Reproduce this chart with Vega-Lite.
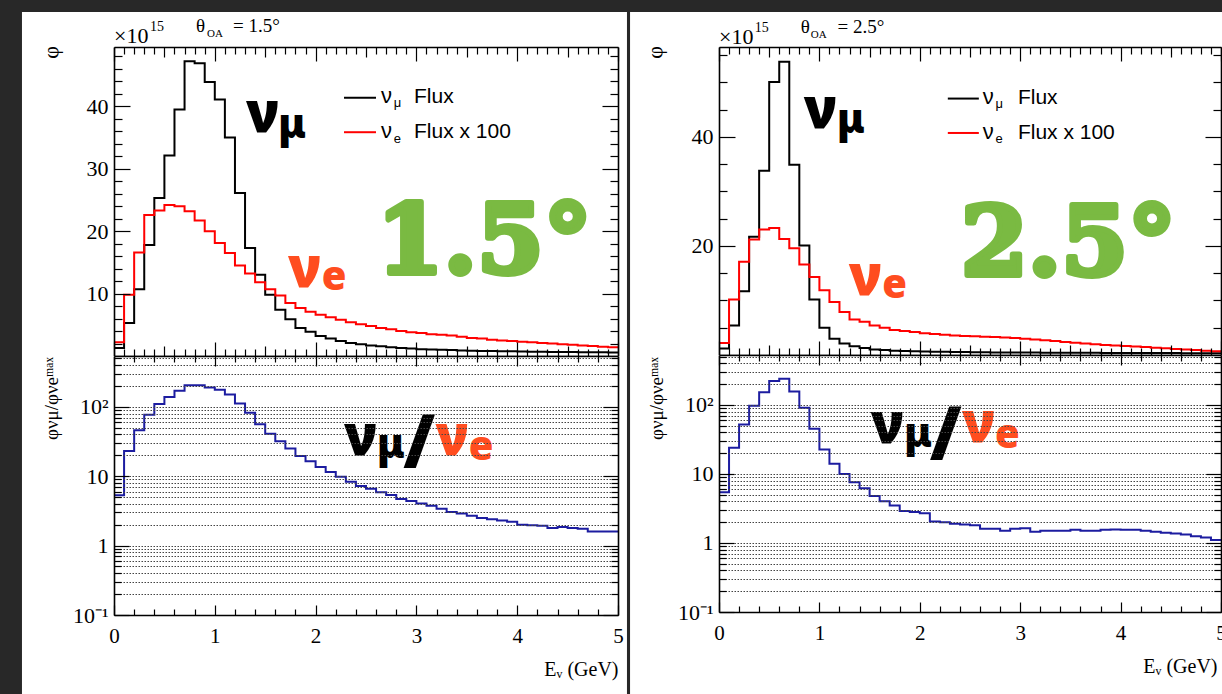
{
"$schema": "https://vega.github.io/schema/vega-lite/v6.json",
"background": "#282828",
"padding": {"left": 21, "top": 12, "right": 0, "bottom": 0},
"config": {
  "view": {"stroke": null},
  "axis": {"domainColor": "#000", "domainWidth": 1.6, "tickColor": "#000", "tickWidth": 1.2, "labelFont": "Liberation Serif", "labelFontSize": 22, "labelColor": "#000", "titleFont": "Liberation Serif", "titleFontWeight": "normal", "titleColor": "#000", "grid": false, "zindex": 1, "labelFlush": false, "labelOverlap": false, "labelBound": false}
},
"datasets": {
"L": [
{"E":0.0,"numu":1.3,"nue":2.2,"ratio":5.3},
{"E":0.1,"numu":5.3,"nue":9.8,"ratio":23},
{"E":0.2,"numu":10.7,"nue":16.6,"ratio":46},
{"E":0.3,"numu":17.8,"nue":22.6,"ratio":77},
{"E":0.4,"numu":25.3,"nue":23.3,"ratio":110},
{"E":0.5,"numu":32.1,"nue":24.2,"ratio":139},
{"E":0.6,"numu":39.5,"nue":24.0,"ratio":170},
{"E":0.7,"numu":47.2,"nue":23.2,"ratio":205},
{"E":0.8,"numu":46.9,"nue":21.7,"ratio":205},
{"E":0.9,"numu":43.9,"nue":20.0,"ratio":190},
{"E":1.0,"numu":41.1,"nue":18.1,"ratio":176},
{"E":1.1,"numu":35.0,"nue":16.5,"ratio":151},
{"E":1.2,"numu":26.1,"nue":14.5,"ratio":112},
{"E":1.3,"numu":17.3,"nue":13.2,"ratio":82},
{"E":1.4,"numu":13.0,"nue":11.8,"ratio":56},
{"E":1.5,"numu":9.8,"nue":10.7,"ratio":41},
{"E":1.6,"numu":7.4,"nue":9.7,"ratio":32},
{"E":1.7,"numu":5.9,"nue":8.5,"ratio":25},
{"E":1.8,"numu":4.5,"nue":7.7,"ratio":19.6},
{"E":1.9,"numu":3.9,"nue":7.1,"ratio":16.4},
{"E":2.0,"numu":3.2,"nue":6.6,"ratio":13.6},
{"E":2.1,"numu":2.8,"nue":6.2,"ratio":11.5},
{"E":2.2,"numu":2.4,"nue":5.8,"ratio":9.8},
{"E":2.3,"numu":2.1,"nue":5.4,"ratio":8.3},
{"E":2.4,"numu":1.9,"nue":5.1,"ratio":7.25},
{"E":2.5,"numu":1.7,"nue":4.8,"ratio":6.6},
{"E":2.6,"numu":1.55,"nue":4.5,"ratio":5.85},
{"E":2.7,"numu":1.4,"nue":4.3,"ratio":5.35},
{"E":2.8,"numu":1.3,"nue":4.0,"ratio":4.7},
{"E":2.9,"numu":1.2,"nue":3.8,"ratio":4.4},
{"E":3.0,"numu":1.1,"nue":3.7,"ratio":4.05},
{"E":3.1,"numu":1.05,"nue":3.5,"ratio":3.75},
{"E":3.2,"numu":1.0,"nue":3.4,"ratio":3.4},
{"E":3.3,"numu":0.95,"nue":3.3,"ratio":3.05},
{"E":3.4,"numu":0.9,"nue":3.1,"ratio":2.9},
{"E":3.5,"numu":0.85,"nue":2.9,"ratio":2.7},
{"E":3.6,"numu":0.82,"nue":2.8,"ratio":2.5},
{"E":3.7,"numu":0.8,"nue":2.6,"ratio":2.4},
{"E":3.8,"numu":0.77,"nue":2.5,"ratio":2.3},
{"E":3.9,"numu":0.75,"nue":2.4,"ratio":2.2},
{"E":4.0,"numu":0.72,"nue":2.3,"ratio":2.0},
{"E":4.1,"numu":0.7,"nue":2.2,"ratio":1.97},
{"E":4.2,"numu":0.68,"nue":2.1,"ratio":1.93},
{"E":4.3,"numu":0.66,"nue":2.0,"ratio":1.8},
{"E":4.4,"numu":0.65,"nue":1.9,"ratio":1.85},
{"E":4.5,"numu":0.64,"nue":1.8,"ratio":1.8},
{"E":4.6,"numu":0.62,"nue":1.7,"ratio":1.75},
{"E":4.7,"numu":0.61,"nue":1.6,"ratio":1.6},
{"E":4.8,"numu":0.6,"nue":1.5,"ratio":1.6},
{"E":4.9,"numu":0.58,"nue":1.4,"ratio":1.6},
{"E":5.0,"numu":0.58,"nue":1.4,"ratio":1.6}
],
"R": [
{"E":0.0,"numu":1.2,"nue":2.2,"ratio":5.4},
{"E":0.1,"numu":5.4,"nue":10.2,"ratio":24},
{"E":0.2,"numu":11.7,"nue":17.1,"ratio":52},
{"E":0.3,"numu":21.7,"nue":21.2,"ratio":97},
{"E":0.4,"numu":33.8,"nue":23.0,"ratio":152},
{"E":0.5,"numu":50.1,"nue":23.3,"ratio":222},
{"E":0.6,"numu":53.8,"nue":21.3,"ratio":238},
{"E":0.7,"numu":34.9,"nue":19.6,"ratio":156},
{"E":0.8,"numu":20.1,"nue":16.6,"ratio":91},
{"E":0.9,"numu":10.2,"nue":14.3,"ratio":45},
{"E":1.0,"numu":5.0,"nue":11.9,"ratio":22.6},
{"E":1.1,"numu":3.0,"nue":9.7,"ratio":14},
{"E":1.2,"numu":2.1,"nue":7.9,"ratio":10},
{"E":1.3,"numu":1.6,"nue":6.5,"ratio":7.6},
{"E":1.4,"numu":1.3,"nue":6.1,"ratio":6.2},
{"E":1.5,"numu":1.0,"nue":5.4,"ratio":4.8},
{"E":1.6,"numu":0.9,"nue":5.0,"ratio":4.0},
{"E":1.7,"numu":0.8,"nue":4.6,"ratio":3.5},
{"E":1.8,"numu":0.75,"nue":4.4,"ratio":2.9},
{"E":1.9,"numu":0.7,"nue":4.2,"ratio":2.8},
{"E":2.0,"numu":0.65,"nue":4.0,"ratio":2.7},
{"E":2.1,"numu":0.6,"nue":3.85,"ratio":2.05},
{"E":2.2,"numu":0.58,"nue":3.7,"ratio":2.0},
{"E":2.3,"numu":0.55,"nue":3.6,"ratio":1.9},
{"E":2.4,"numu":0.53,"nue":3.5,"ratio":1.85},
{"E":2.5,"numu":0.5,"nue":3.45,"ratio":1.8},
{"E":2.6,"numu":0.5,"nue":3.35,"ratio":1.6},
{"E":2.7,"numu":0.48,"nue":3.3,"ratio":1.6},
{"E":2.8,"numu":0.47,"nue":3.2,"ratio":1.5},
{"E":2.9,"numu":0.46,"nue":3.1,"ratio":1.6},
{"E":3.0,"numu":0.45,"nue":3.0,"ratio":1.63},
{"E":3.1,"numu":0.44,"nue":2.85,"ratio":1.45},
{"E":3.2,"numu":0.43,"nue":2.7,"ratio":1.5},
{"E":3.3,"numu":0.42,"nue":2.55,"ratio":1.5},
{"E":3.4,"numu":0.41,"nue":2.4,"ratio":1.5},
{"E":3.5,"numu":0.4,"nue":2.25,"ratio":1.55},
{"E":3.6,"numu":0.4,"nue":2.1,"ratio":1.5},
{"E":3.7,"numu":0.39,"nue":1.95,"ratio":1.5},
{"E":3.8,"numu":0.38,"nue":1.85,"ratio":1.55},
{"E":3.9,"numu":0.38,"nue":1.75,"ratio":1.57},
{"E":4.0,"numu":0.37,"nue":1.65,"ratio":1.55},
{"E":4.1,"numu":0.37,"nue":1.55,"ratio":1.55},
{"E":4.2,"numu":0.36,"nue":1.45,"ratio":1.5},
{"E":4.3,"numu":0.36,"nue":1.35,"ratio":1.45},
{"E":4.4,"numu":0.35,"nue":1.25,"ratio":1.4},
{"E":4.5,"numu":0.35,"nue":1.1,"ratio":1.37},
{"E":4.6,"numu":0.34,"nue":1.0,"ratio":1.33},
{"E":4.7,"numu":0.34,"nue":0.9,"ratio":1.25},
{"E":4.8,"numu":0.33,"nue":0.8,"ratio":1.2},
{"E":4.9,"numu":0.33,"nue":0.7,"ratio":1.1},
{"E":5.0,"numu":0.33,"nue":0.7,"ratio":1.1}
]
},
"spacing": 3,
"bounds": "full",
"hconcat": [
{
"spacing": 0,
"bounds": "flush",
"vconcat": [
{
"width": 504, "height": 309,
"data": {"name": "L"},
"resolve": {"axis": {"x": "independent", "y": "independent"}},
"layer": [
{"data": {"values": [{}]}, "mark": {"type": "rect", "color": "#ffffff", "clip": false},
 "encoding": {"x": {"datum": -0.913, "type": "quantitative", "axis": null, "scale": {"domain": [0, 5], "nice": false, "zero": false}}, "x2": {"datum": 5.089},
  "y": {"datum": 0, "type": "quantitative", "axis": null, "scale": {"domain": [0, 49.5], "nice": false, "zero": false}}, "y2": {"datum": 55.1}}},
{"mark": {"type": "line", "interpolate": "step-after", "color": "#000000", "strokeWidth": 2},
 "encoding": {
  "x": {"field": "E", "type": "quantitative", "scale": {"domain": [0, 5], "nice": false, "zero": false},
   "axis": {"orient": "bottom", "zindex": 2, "values": [0,0.1,0.2,0.3,0.4,0.5,0.6,0.7,0.8,0.9,1,1.1,1.2,1.3,1.4,1.5,1.6,1.7,1.8,1.9,2,2.1,2.2,2.3,2.4,2.5,2.6,2.7,2.8,2.9,3,3.1,3.2,3.3,3.4,3.5,3.6,3.7,3.8,3.9,4,4.1,4.2,4.3,4.4,4.5,4.6,4.7,4.8,4.9,5], "labels": false, "title": null, "tickSize": -14,
    "tickDash": {"condition": [{"test": "abs(datum.value*2 - round(datum.value*2)) < 0.001 && abs(datum.value - round(datum.value)) > 0.001", "value": [10, 100]}, {"test": "abs(datum.value - round(datum.value)) > 0.001", "value": [7, 100]}], "value": [40, 1]}}},
  "y": {"field": "numu", "type": "quantitative", "scale": {"domain": [0, 49.5], "nice": false, "zero": false},
   "axis": {"orient": "left", "zindex": 2, "values": [2,4,6,8,10,12,14,16,18,20,22,24,26,28,30,32,34,36,38,40,42,44,46,48], "tickSize": -16,
    "tickDash": {"condition": {"test": "datum.value % 10 !== 0", "value": [8, 100]}, "value": [40, 1]},
    "labelExpr": "datum.value % 10 === 0 ? datum.label : ''", "labelPadding": 22,
    "title": "φ", "titleFontSize": 22, "titleX": -64, "titleY": 5, "titleAngle": 270, "titleAlign": "center", "titleBaseline": "middle"}}}},
{"mark": {"type": "line", "interpolate": "step-after", "color": "#ff0000", "strokeWidth": 2},
 "encoding": {
  "x": {"field": "E", "type": "quantitative",
   "axis": {"orient": "top", "zindex": 2, "values": [0,0.1,0.2,0.3,0.4,0.5,0.6,0.7,0.8,0.9,1,1.1,1.2,1.3,1.4,1.5,1.6,1.7,1.8,1.9,2,2.1,2.2,2.3,2.4,2.5,2.6,2.7,2.8,2.9,3,3.1,3.2,3.3,3.4,3.5,3.6,3.7,3.8,3.9,4,4.1,4.2,4.3,4.4,4.5,4.6,4.7,4.8,4.9,5], "labels": false, "title": null, "tickSize": -14,
    "tickDash": {"condition": [{"test": "abs(datum.value*2 - round(datum.value*2)) < 0.001 && abs(datum.value - round(datum.value)) > 0.001", "value": [10, 100]}, {"test": "abs(datum.value - round(datum.value)) > 0.001", "value": [7, 100]}], "value": [40, 1]}}},
  "y": {"field": "nue", "type": "quantitative",
   "axis": {"orient": "right", "zindex": 2, "values": [2,4,6,8,10,12,14,16,18,20,22,24,26,28,30,32,34,36,38,40,42,44,46,48], "labels": false, "title": null, "tickSize": -16,
    "tickDash": {"condition": {"test": "datum.value % 10 !== 0", "value": [8, 100]}, "value": [40, 1]}}}}},
{"data": {"values": [{"t": "×10"}]}, "mark": {"type": "text", "align": "left", "baseline": "alphabetic", "font": "Liberation Serif", "fontSize": 22, "color": "#000", "clip": false},
 "encoding": {"x": {"datum": 0, "type": "quantitative", "axis": null}, "y": {"datum": 50.18, "type": "quantitative", "axis": null}, "text": {"field": "t"}}},
{"data": {"values": [{"t": "15"}]}, "mark": {"type": "text", "align": "left", "baseline": "alphabetic", "font": "Liberation Serif", "fontSize": 14, "color": "#000", "clip": false},
 "encoding": {"x": {"datum": 0.357, "type": "quantitative", "axis": null}, "y": {"datum": 52.04, "type": "quantitative", "axis": null}, "text": {"field": "t"}}},
{"data": {"values": [{"t": "θ"}]}, "mark": {"type": "text", "align": "left", "baseline": "alphabetic", "font": "Liberation Serif", "fontSize": 19, "color": "#000", "clip": false},
 "encoding": {"x": {"datum": 0.813, "type": "quantitative", "axis": null}, "y": {"datum": 51.94, "type": "quantitative", "axis": null}, "text": {"field": "t"}}},
{"data": {"values": [{"t": "OA"}]}, "mark": {"type": "text", "align": "left", "baseline": "alphabetic", "font": "Liberation Serif", "fontSize": 11, "color": "#000", "clip": false},
 "encoding": {"x": {"datum": 0.923, "type": "quantitative", "axis": null}, "y": {"datum": 51.14, "type": "quantitative", "axis": null}, "text": {"field": "t"}}},
{"data": {"values": [{"t": "= 1.5°"}]}, "mark": {"type": "text", "align": "left", "baseline": "alphabetic", "font": "Liberation Serif", "fontSize": 19, "color": "#000", "clip": false},
 "encoding": {"x": {"datum": 1.181, "type": "quantitative", "axis": null}, "y": {"datum": 51.94, "type": "quantitative", "axis": null}, "text": {"field": "t"}}},
{"data": {"values": [{"t": "ν"}]}, "mark": {"type": "text", "align": "left", "baseline": "alphabetic", "font": "Noto Sans", "fontWeight": 900, "fontSize": 56, "color": "#000", "clip": false},
 "encoding": {"x": {"datum": 1.31, "type": "quantitative", "axis": null}, "y": {"datum": 35.81, "type": "quantitative", "axis": null}, "text": {"field": "t"}}},
{"data": {"values": [{"t": "μ"}]}, "mark": {"type": "text", "align": "left", "baseline": "alphabetic", "font": "Noto Sans", "fontWeight": 900, "fontSize": 40, "color": "#000", "clip": false},
 "encoding": {"x": {"datum": 1.63, "type": "quantitative", "axis": null}, "y": {"datum": 35.0, "type": "quantitative", "axis": null}, "text": {"field": "t"}}},
{"data": {"values": [{"t": "ν"}]}, "mark": {"type": "text", "align": "left", "baseline": "alphabetic", "font": "Noto Sans", "fontWeight": 900, "fontSize": 56, "color": "#ff4d1f", "clip": false},
 "encoding": {"x": {"datum": 1.726, "type": "quantitative", "axis": null}, "y": {"datum": 11.13, "type": "quantitative", "axis": null}, "text": {"field": "t"}}},
{"data": {"values": [{"t": "e"}]}, "mark": {"type": "text", "align": "left", "baseline": "alphabetic", "font": "Noto Sans", "fontWeight": 900, "fontSize": 40, "color": "#ff4d1f", "clip": false},
 "encoding": {"x": {"datum": 2.06, "type": "quantitative", "axis": null}, "y": {"datum": 10.65, "type": "quantitative", "axis": null}, "text": {"field": "t"}}},
{"data": {"values": [{"t": "1.5°"}]}, "mark": {"type": "text", "align": "left", "baseline": "alphabetic", "font": "DejaVu Serif", "fontWeight": "bold", "fontSize": 96, "color": "#7aba42", "stroke": "#7aba42", "strokeWidth": 6, "strokeJoin": "round", "clip": false},
 "encoding": {"x": {"datum": 2.606, "type": "quantitative", "axis": null}, "y": {"datum": 13.3, "type": "quantitative", "axis": null}, "text": {"field": "t"}}},
{"data": {"values": [{}]}, "mark": {"type": "rule", "color": "#000000", "strokeWidth": 2, "clip": false},
 "encoding": {"x": {"datum": 2.282, "type": "quantitative", "axis": null}, "x2": {"datum": 2.599}, "y": {"datum": 41.37, "type": "quantitative", "axis": null}}},
{"data": {"values": [{}]}, "mark": {"type": "rule", "color": "#ff0000", "strokeWidth": 2, "clip": false},
 "encoding": {"x": {"datum": 2.282, "type": "quantitative", "axis": null}, "x2": {"datum": 2.599}, "y": {"datum": 35.85, "type": "quantitative", "axis": null}}},
{"data": {"values": [{"t": "ν"}]}, "mark": {"type": "text", "align": "left", "baseline": "alphabetic", "font": "Liberation Sans", "fontSize": 22, "color": "#000", "clip": false},
 "encoding": {"x": {"datum": 2.649, "type": "quantitative", "axis": null}, "y": {"datum": 40.53, "type": "quantitative", "axis": null}, "text": {"field": "t"}}},
{"data": {"values": [{"t": "μ"}]}, "mark": {"type": "text", "align": "left", "baseline": "alphabetic", "font": "Liberation Sans", "fontSize": 13, "color": "#000", "clip": false},
 "encoding": {"x": {"datum": 2.775, "type": "quantitative", "axis": null}, "y": {"datum": 39.81, "type": "quantitative", "axis": null}, "text": {"field": "t"}}},
{"data": {"values": [{"t": "Flux"}]}, "mark": {"type": "text", "align": "left", "baseline": "alphabetic", "font": "Liberation Sans", "fontSize": 21, "color": "#000", "clip": false},
 "encoding": {"x": {"datum": 2.976, "type": "quantitative", "axis": null}, "y": {"datum": 40.53, "type": "quantitative", "axis": null}, "text": {"field": "t"}}},
{"data": {"values": [{"t": "ν"}]}, "mark": {"type": "text", "align": "left", "baseline": "alphabetic", "font": "Liberation Sans", "fontSize": 22, "color": "#000", "clip": false},
 "encoding": {"x": {"datum": 2.649, "type": "quantitative", "axis": null}, "y": {"datum": 34.96, "type": "quantitative", "axis": null}, "text": {"field": "t"}}},
{"data": {"values": [{"t": "e"}]}, "mark": {"type": "text", "align": "left", "baseline": "alphabetic", "font": "Liberation Sans", "fontSize": 13, "color": "#000", "clip": false},
 "encoding": {"x": {"datum": 2.775, "type": "quantitative", "axis": null}, "y": {"datum": 34.2, "type": "quantitative", "axis": null}, "text": {"field": "t"}}},
{"data": {"values": [{"t": "Flux x 100"}]}, "mark": {"type": "text", "align": "left", "baseline": "alphabetic", "font": "Liberation Sans", "fontSize": 21, "color": "#000", "clip": false},
 "encoding": {"x": {"datum": 2.976, "type": "quantitative", "axis": null}, "y": {"datum": 34.96, "type": "quantitative", "axis": null}, "text": {"field": "t"}}}
]
},
{
"width": 504, "height": 259,
"data": {"name": "L"},
"resolve": {"axis": {"x": "independent", "y": "independent"}},
"layer": [
{"data": {"values": [{}]}, "mark": {"type": "rect", "color": "#ffffff", "clip": false},
 "encoding": {"x": {"datum": -0.913, "type": "quantitative", "axis": null, "scale": {"domain": [0, 5], "nice": false, "zero": false}}, "x2": {"datum": 5.089},
  "y": {"datum": 540, "type": "quantitative", "axis": null, "scale": {"type": "log", "domain": [0.1, 540], "nice": false}}, "y2": {"datum": 0.0072}}},
{"mark": {"type": "line", "interpolate": "step-after", "color": "#1c1ca0", "strokeWidth": 2},
 "encoding": {
  "x": {"field": "E", "type": "quantitative", "scale": {"domain": [0, 5], "nice": false, "zero": false},
   "axis": {"orient": "bottom", "zindex": 2, "values": [0,0.2,0.4,0.6,0.8,1,1.2,1.4,1.6,1.8,2,2.2,2.4,2.6,2.8,3,3.2,3.4,3.6,3.8,4,4.2,4.4,4.6,4.8,5], "tickSize": -10,
    "tickDash": {"condition": {"test": "abs(datum.value - round(datum.value)) > 0.001", "value": [6, 100]}, "value": [40, 1]},
    "labelExpr": "abs(datum.value - round(datum.value)) < 0.001 ? '' + round(datum.value) : ''", "labelPadding": 20, "labelFontSize": 21,
    "title": "Eᵥ (GeV)", "titleFontSize": 20, "titleX": 504, "titleY": 60, "titleAlign": "right", "titleBaseline": "alphabetic"}},
  "y": {"field": "ratio", "type": "quantitative", "scale": {"type": "log", "domain": [0.1, 540], "nice": false},
   "axis": {"orient": "left", "zindex": 2, "values": [0.1,0.2,0.3,0.4,0.5,0.6,0.7,0.8,0.9,1,2,3,4,5,6,7,8,9,10,20,30,40,50,60,70,80,90,100,200,300,400,500], "tickSize": -15,
    "tickDash": {"condition": {"test": "abs(log(datum.value)/LN10 - round(log(datum.value)/LN10)) > 0.001", "value": [7, 100]}, "value": [40, 1]},
    "grid": true, "gridDash": [1.5, 1.5], "gridColor": "#444444", "gridWidth": 1,
    "labelExpr": "datum.value === 0.1 ? '10⁻¹' : datum.value === 1 ? '1' : datum.value === 10 ? '10' : datum.value === 100 ? '10²' : ''", "labelPadding": 21,
    "title": "φνμ/φνeᵐᵃˣ", "titleFontSize": 19, "titleX": -63, "titleY": 42, "titleAngle": 270, "titleAlign": "center", "titleBaseline": "middle"}}}},
{"mark": {"type": "point", "opacity": 0},
 "encoding": {
  "x": {"field": "E", "type": "quantitative",
   "axis": {"orient": "top", "zindex": 2, "values": [0,0.2,0.4,0.6,0.8,1,1.2,1.4,1.6,1.8,2,2.2,2.4,2.6,2.8,3,3.2,3.4,3.6,3.8,4,4.2,4.4,4.6,4.8,5], "labels": false, "title": null, "tickSize": -10,
    "tickDash": {"condition": {"test": "abs(datum.value - round(datum.value)) > 0.001", "value": [6, 100]}, "value": [40, 1]}}},
  "y": {"field": "ratio", "type": "quantitative",
   "axis": {"orient": "right", "zindex": 2, "values": [0.1,0.2,0.3,0.4,0.5,0.6,0.7,0.8,0.9,1,2,3,4,5,6,7,8,9,10,20,30,40,50,60,70,80,90,100,200,300,400,500], "labels": false, "title": null, "tickSize": -15,
    "tickDash": {"condition": {"test": "abs(log(datum.value)/LN10 - round(log(datum.value)/LN10)) > 0.001", "value": [7, 100]}, "value": [40, 1]}}}}},
{"data": {"values": [{"t": "ν"}]}, "mark": {"type": "text", "align": "left", "baseline": "alphabetic", "font": "Noto Sans", "fontWeight": 900, "fontSize": 56, "color": "#000", "clip": false},
 "encoding": {"x": {"datum": 2.282, "type": "quantitative", "axis": null}, "y": {"datum": 20.14, "type": "quantitative", "axis": null}, "text": {"field": "t"}}},
{"data": {"values": [{"t": "μ"}]}, "mark": {"type": "text", "align": "left", "baseline": "alphabetic", "font": "Noto Sans", "fontWeight": 900, "fontSize": 40, "color": "#000", "clip": false},
 "encoding": {"x": {"datum": 2.61, "type": "quantitative", "axis": null}, "y": {"datum": 18.23, "type": "quantitative", "axis": null}, "text": {"field": "t"}}},
{"data": {"values": [{"t": "/"}]}, "mark": {"type": "text", "align": "left", "baseline": "alphabetic", "font": "Noto Sans", "fontWeight": 900, "fontSize": 72, "color": "#000", "clip": false},
 "encoding": {"x": {"datum": 2.87, "type": "quantitative", "axis": null}, "y": {"datum": 13.5, "type": "quantitative", "axis": null}, "text": {"field": "t"}}},
{"data": {"values": [{"t": "ν"}]}, "mark": {"type": "text", "align": "left", "baseline": "alphabetic", "font": "Noto Sans", "fontWeight": 900, "fontSize": 56, "color": "#ff4d1f", "clip": false},
 "encoding": {"x": {"datum": 3.19, "type": "quantitative", "axis": null}, "y": {"datum": 20.14, "type": "quantitative", "axis": null}, "text": {"field": "t"}}},
{"data": {"values": [{"t": "e"}]}, "mark": {"type": "text", "align": "left", "baseline": "alphabetic", "font": "Noto Sans", "fontWeight": 900, "fontSize": 40, "color": "#ff4d1f", "clip": false},
 "encoding": {"x": {"datum": 3.52, "type": "quantitative", "axis": null}, "y": {"datum": 17.06, "type": "quantitative", "axis": null}, "text": {"field": "t"}}}
]
}
]
},
{
"spacing": 0,
"bounds": "flush",
"vconcat": [
{
"width": 502, "height": 308,
"data": {"name": "R"},
"resolve": {"axis": {"x": "independent", "y": "independent"}},
"layer": [
{"data": {"values": [{}]}, "mark": {"type": "rect", "color": "#ffffff", "clip": false},
 "encoding": {"x": {"datum": -0.886, "type": "quantitative", "axis": null, "scale": {"domain": [0, 5], "nice": false, "zero": false}}, "x2": {"datum": 5.05},
  "y": {"datum": 0, "type": "quantitative", "axis": null, "scale": {"domain": [0, 56.5], "nice": false, "zero": false}}, "y2": {"datum": 62.92}}},
{"mark": {"type": "line", "interpolate": "step-after", "color": "#000000", "strokeWidth": 2},
 "encoding": {
  "x": {"field": "E", "type": "quantitative", "scale": {"domain": [0, 5], "nice": false, "zero": false},
   "axis": {"orient": "bottom", "zindex": 2, "values": [0,0.1,0.2,0.3,0.4,0.5,0.6,0.7,0.8,0.9,1,1.1,1.2,1.3,1.4,1.5,1.6,1.7,1.8,1.9,2,2.1,2.2,2.3,2.4,2.5,2.6,2.7,2.8,2.9,3,3.1,3.2,3.3,3.4,3.5,3.6,3.7,3.8,3.9,4,4.1,4.2,4.3,4.4,4.5,4.6,4.7,4.8,4.9,5], "labels": false, "title": null, "tickSize": -14,
    "tickDash": {"condition": [{"test": "abs(datum.value*2 - round(datum.value*2)) < 0.001 && abs(datum.value - round(datum.value)) > 0.001", "value": [10, 100]}, {"test": "abs(datum.value - round(datum.value)) > 0.001", "value": [7, 100]}], "value": [40, 1]}}},
  "y": {"field": "numu", "type": "quantitative", "scale": {"domain": [0, 56.5], "nice": false, "zero": false},
   "axis": {"orient": "left", "zindex": 2, "values": [5,10,15,20,25,30,35,40,45,50,55], "tickSize": -16,
    "tickDash": {"condition": {"test": "datum.value !== 20 && datum.value !== 40", "value": [8, 100]}, "value": [40, 1]},
    "labelExpr": "(datum.value === 20 || datum.value === 40) ? datum.label : ''", "labelPadding": 22,
    "title": "φ", "titleFontSize": 22, "titleX": -65, "titleY": 5, "titleAngle": 270, "titleAlign": "center", "titleBaseline": "middle"}}}},
{"mark": {"type": "line", "interpolate": "step-after", "color": "#ff0000", "strokeWidth": 2},
 "encoding": {
  "x": {"field": "E", "type": "quantitative",
   "axis": {"orient": "top", "zindex": 2, "values": [0,0.1,0.2,0.3,0.4,0.5,0.6,0.7,0.8,0.9,1,1.1,1.2,1.3,1.4,1.5,1.6,1.7,1.8,1.9,2,2.1,2.2,2.3,2.4,2.5,2.6,2.7,2.8,2.9,3,3.1,3.2,3.3,3.4,3.5,3.6,3.7,3.8,3.9,4,4.1,4.2,4.3,4.4,4.5,4.6,4.7,4.8,4.9,5], "labels": false, "title": null, "tickSize": -14,
    "tickDash": {"condition": [{"test": "abs(datum.value*2 - round(datum.value*2)) < 0.001 && abs(datum.value - round(datum.value)) > 0.001", "value": [10, 100]}, {"test": "abs(datum.value - round(datum.value)) > 0.001", "value": [7, 100]}], "value": [40, 1]}}},
  "y": {"field": "nue", "type": "quantitative",
   "axis": {"orient": "right", "zindex": 2, "values": [5,10,15,20,25,30,35,40,45,50,55], "labels": false, "title": null, "tickSize": -16,
    "tickDash": {"condition": {"test": "datum.value !== 20 && datum.value !== 40", "value": [8, 100]}, "value": [40, 1]}}}}},
{"data": {"values": [{"t": "×10"}]}, "mark": {"type": "text", "align": "left", "baseline": "alphabetic", "font": "Liberation Serif", "fontSize": 22, "color": "#000", "clip": false},
 "encoding": {"x": {"datum": 0, "type": "quantitative", "axis": null}, "y": {"datum": 57.13, "type": "quantitative", "axis": null}, "text": {"field": "t"}}},
{"data": {"values": [{"t": "15"}]}, "mark": {"type": "text", "align": "left", "baseline": "alphabetic", "font": "Liberation Serif", "fontSize": 14, "color": "#000", "clip": false},
 "encoding": {"x": {"datum": 0.356, "type": "quantitative", "axis": null}, "y": {"datum": 59.25, "type": "quantitative", "axis": null}, "text": {"field": "t"}}},
{"data": {"values": [{"t": "θ"}]}, "mark": {"type": "text", "align": "left", "baseline": "alphabetic", "font": "Liberation Serif", "fontSize": 19, "color": "#000", "clip": false},
 "encoding": {"x": {"datum": 0.814, "type": "quantitative", "axis": null}, "y": {"datum": 59.15, "type": "quantitative", "axis": null}, "text": {"field": "t"}}},
{"data": {"values": [{"t": "OA"}]}, "mark": {"type": "text", "align": "left", "baseline": "alphabetic", "font": "Liberation Serif", "fontSize": 11, "color": "#000", "clip": false},
 "encoding": {"x": {"datum": 0.914, "type": "quantitative", "axis": null}, "y": {"datum": 58.23, "type": "quantitative", "axis": null}, "text": {"field": "t"}}},
{"data": {"values": [{"t": "= 2.5°"}]}, "mark": {"type": "text", "align": "left", "baseline": "alphabetic", "font": "Liberation Serif", "fontSize": 19, "color": "#000", "clip": false},
 "encoding": {"x": {"datum": 1.18, "type": "quantitative", "axis": null}, "y": {"datum": 59.15, "type": "quantitative", "axis": null}, "text": {"field": "t"}}},
{"data": {"values": [{"t": "ν"}]}, "mark": {"type": "text", "align": "left", "baseline": "alphabetic", "font": "Noto Sans", "fontWeight": 900, "fontSize": 56, "color": "#000", "clip": false},
 "encoding": {"x": {"datum": 0.844, "type": "quantitative", "axis": null}, "y": {"datum": 41.59, "type": "quantitative", "axis": null}, "text": {"field": "t"}}},
{"data": {"values": [{"t": "μ"}]}, "mark": {"type": "text", "align": "left", "baseline": "alphabetic", "font": "Noto Sans", "fontWeight": 900, "fontSize": 40, "color": "#000", "clip": false},
 "encoding": {"x": {"datum": 1.175, "type": "quantitative", "axis": null}, "y": {"datum": 40.67, "type": "quantitative", "axis": null}, "text": {"field": "t"}}},
{"data": {"values": [{"t": "ν"}]}, "mark": {"type": "text", "align": "left", "baseline": "alphabetic", "font": "Noto Sans", "fontWeight": 900, "fontSize": 56, "color": "#ff4d1f", "clip": false},
 "encoding": {"x": {"datum": 1.293, "type": "quantitative", "axis": null}, "y": {"datum": 10.95, "type": "quantitative", "axis": null}, "text": {"field": "t"}}},
{"data": {"values": [{"t": "e"}]}, "mark": {"type": "text", "align": "left", "baseline": "alphabetic", "font": "Noto Sans", "fontWeight": 900, "fontSize": 40, "color": "#ff4d1f", "clip": false},
 "encoding": {"x": {"datum": 1.625, "type": "quantitative", "axis": null}, "y": {"datum": 10.4, "type": "quantitative", "axis": null}, "text": {"field": "t"}}},
{"data": {"values": [{"t": "2.5°"}]}, "mark": {"type": "text", "align": "left", "baseline": "alphabetic", "font": "DejaVu Serif", "fontWeight": "bold", "fontSize": 96, "color": "#7aba42", "stroke": "#7aba42", "strokeWidth": 6, "strokeJoin": "round", "clip": false},
 "encoding": {"x": {"datum": 2.41, "type": "quantitative", "axis": null}, "y": {"datum": 14.6, "type": "quantitative", "axis": null}, "text": {"field": "t"}}},
{"data": {"values": [{}]}, "mark": {"type": "rule", "color": "#000000", "strokeWidth": 2, "clip": false},
 "encoding": {"x": {"datum": 2.279, "type": "quantitative", "axis": null}, "x2": {"datum": 2.588}, "y": {"datum": 47.04, "type": "quantitative", "axis": null}}},
{"data": {"values": [{}]}, "mark": {"type": "rule", "color": "#ff0000", "strokeWidth": 2, "clip": false},
 "encoding": {"x": {"datum": 2.279, "type": "quantitative", "axis": null}, "x2": {"datum": 2.588}, "y": {"datum": 40.73, "type": "quantitative", "axis": null}}},
{"data": {"values": [{"t": "ν"}]}, "mark": {"type": "text", "align": "left", "baseline": "alphabetic", "font": "Liberation Sans", "fontSize": 22, "color": "#000", "clip": false},
 "encoding": {"x": {"datum": 2.628, "type": "quantitative", "axis": null}, "y": {"datum": 46.08, "type": "quantitative", "axis": null}, "text": {"field": "t"}}},
{"data": {"values": [{"t": "μ"}]}, "mark": {"type": "text", "align": "left", "baseline": "alphabetic", "font": "Liberation Sans", "fontSize": 13, "color": "#000", "clip": false},
 "encoding": {"x": {"datum": 2.755, "type": "quantitative", "axis": null}, "y": {"datum": 45.26, "type": "quantitative", "axis": null}, "text": {"field": "t"}}},
{"data": {"values": [{"t": "Flux"}]}, "mark": {"type": "text", "align": "left", "baseline": "alphabetic", "font": "Liberation Sans", "fontSize": 21, "color": "#000", "clip": false},
 "encoding": {"x": {"datum": 2.977, "type": "quantitative", "axis": null}, "y": {"datum": 46.08, "type": "quantitative", "axis": null}, "text": {"field": "t"}}},
{"data": {"values": [{"t": "ν"}]}, "mark": {"type": "text", "align": "left", "baseline": "alphabetic", "font": "Liberation Sans", "fontSize": 22, "color": "#000", "clip": false},
 "encoding": {"x": {"datum": 2.628, "type": "quantitative", "axis": null}, "y": {"datum": 39.7, "type": "quantitative", "axis": null}, "text": {"field": "t"}}},
{"data": {"values": [{"t": "e"}]}, "mark": {"type": "text", "align": "left", "baseline": "alphabetic", "font": "Liberation Sans", "fontSize": 13, "color": "#000", "clip": false},
 "encoding": {"x": {"datum": 2.755, "type": "quantitative", "axis": null}, "y": {"datum": 38.84, "type": "quantitative", "axis": null}, "text": {"field": "t"}}},
{"data": {"values": [{"t": "Flux x 100"}]}, "mark": {"type": "text", "align": "left", "baseline": "alphabetic", "font": "Liberation Sans", "fontSize": 21, "color": "#000", "clip": false},
 "encoding": {"x": {"datum": 2.977, "type": "quantitative", "axis": null}, "y": {"datum": 39.7, "type": "quantitative", "axis": null}, "text": {"field": "t"}}}
]
},
{
"width": 502, "height": 257,
"data": {"name": "R"},
"resolve": {"axis": {"x": "independent", "y": "independent"}},
"layer": [
{"data": {"values": [{}]}, "mark": {"type": "rect", "color": "#ffffff", "clip": false},
 "encoding": {"x": {"datum": -0.886, "type": "quantitative", "axis": null, "scale": {"domain": [0, 5], "nice": false, "zero": false}}, "x2": {"datum": 5.05},
  "y": {"datum": 527, "type": "quantitative", "axis": null, "scale": {"type": "log", "domain": [0.1, 527], "nice": false}}, "y2": {"datum": 0.0065}}},
{"mark": {"type": "line", "interpolate": "step-after", "color": "#1c1ca0", "strokeWidth": 2},
 "encoding": {
  "x": {"field": "E", "type": "quantitative", "scale": {"domain": [0, 5], "nice": false, "zero": false},
   "axis": {"orient": "bottom", "zindex": 2, "values": [0,0.2,0.4,0.6,0.8,1,1.2,1.4,1.6,1.8,2,2.2,2.4,2.6,2.8,3,3.2,3.4,3.6,3.8,4,4.2,4.4,4.6,4.8,5], "tickSize": -10,
    "tickDash": {"condition": {"test": "abs(datum.value - round(datum.value)) > 0.001", "value": [6, 100]}, "value": [40, 1]},
    "labelExpr": "abs(datum.value - round(datum.value)) < 0.001 ? '' + round(datum.value) : ''", "labelPadding": 20, "labelFontSize": 21,
    "title": "Eᵥ (GeV)", "titleFontSize": 20, "titleX": 498, "titleY": 60, "titleAlign": "right", "titleBaseline": "alphabetic"}},
  "y": {"field": "ratio", "type": "quantitative", "scale": {"type": "log", "domain": [0.1, 527], "nice": false},
   "axis": {"orient": "left", "zindex": 2, "values": [0.1,0.2,0.3,0.4,0.5,0.6,0.7,0.8,0.9,1,2,3,4,5,6,7,8,9,10,20,30,40,50,60,70,80,90,100,200,300,400,500], "tickSize": -15,
    "tickDash": {"condition": {"test": "abs(log(datum.value)/LN10 - round(log(datum.value)/LN10)) > 0.001", "value": [7, 100]}, "value": [40, 1]},
    "grid": true, "gridDash": [1.5, 1.5], "gridColor": "#444444", "gridWidth": 1,
    "labelExpr": "datum.value === 0.1 ? '10⁻¹' : datum.value === 1 ? '1' : datum.value === 10 ? '10' : datum.value === 100 ? '10²' : ''", "labelPadding": 21,
    "title": "φνμ/φνeᵐᵃˣ", "titleFontSize": 19, "titleX": -63, "titleY": 43, "titleAngle": 270, "titleAlign": "center", "titleBaseline": "middle"}}}},
{"mark": {"type": "point", "opacity": 0},
 "encoding": {
  "x": {"field": "E", "type": "quantitative",
   "axis": {"orient": "top", "zindex": 2, "values": [0,0.2,0.4,0.6,0.8,1,1.2,1.4,1.6,1.8,2,2.2,2.4,2.6,2.8,3,3.2,3.4,3.6,3.8,4,4.2,4.4,4.6,4.8,5], "labels": false, "title": null, "tickSize": -10,
    "tickDash": {"condition": {"test": "abs(datum.value - round(datum.value)) > 0.001", "value": [6, 100]}, "value": [40, 1]}}},
  "y": {"field": "ratio", "type": "quantitative",
   "axis": {"orient": "right", "zindex": 2, "values": [0.1,0.2,0.3,0.4,0.5,0.6,0.7,0.8,0.9,1,2,3,4,5,6,7,8,9,10,20,30,40,50,60,70,80,90,100,200,300,400,500], "labels": false, "title": null, "tickSize": -15,
    "tickDash": {"condition": {"test": "abs(log(datum.value)/LN10 - round(log(datum.value)/LN10)) > 0.001", "value": [7, 100]}, "value": [40, 1]}}}}},
{"data": {"values": [{"t": "ν"}]}, "mark": {"type": "text", "align": "left", "baseline": "alphabetic", "font": "Noto Sans", "fontWeight": 900, "fontSize": 56, "color": "#000", "clip": false},
 "encoding": {"x": {"datum": 1.512, "type": "quantitative", "axis": null}, "y": {"datum": 28.2, "type": "quantitative", "axis": null}, "text": {"field": "t"}}},
{"data": {"values": [{"t": "μ"}]}, "mark": {"type": "text", "align": "left", "baseline": "alphabetic", "font": "Noto Sans", "fontWeight": 900, "fontSize": 40, "color": "#000", "clip": false},
 "encoding": {"x": {"datum": 1.845, "type": "quantitative", "axis": null}, "y": {"datum": 24.6, "type": "quantitative", "axis": null}, "text": {"field": "t"}}},
{"data": {"values": [{"t": "/"}]}, "mark": {"type": "text", "align": "left", "baseline": "alphabetic", "font": "Noto Sans", "fontWeight": 900, "fontSize": 72, "color": "#000", "clip": false},
 "encoding": {"x": {"datum": 2.1, "type": "quantitative", "axis": null}, "y": {"datum": 16.5, "type": "quantitative", "axis": null}, "text": {"field": "t"}}},
{"data": {"values": [{"t": "ν"}]}, "mark": {"type": "text", "align": "left", "baseline": "alphabetic", "font": "Noto Sans", "fontWeight": 900, "fontSize": 56, "color": "#ff4d1f", "clip": false},
 "encoding": {"x": {"datum": 2.42, "type": "quantitative", "axis": null}, "y": {"datum": 29.1, "type": "quantitative", "axis": null}, "text": {"field": "t"}}},
{"data": {"values": [{"t": "e"}]}, "mark": {"type": "text", "align": "left", "baseline": "alphabetic", "font": "Noto Sans", "fontWeight": 900, "fontSize": 40, "color": "#ff4d1f", "clip": false},
 "encoding": {"x": {"datum": 2.75, "type": "quantitative", "axis": null}, "y": {"datum": 23.8, "type": "quantitative", "axis": null}, "text": {"field": "t"}}}
]
}
]
}
]
}
